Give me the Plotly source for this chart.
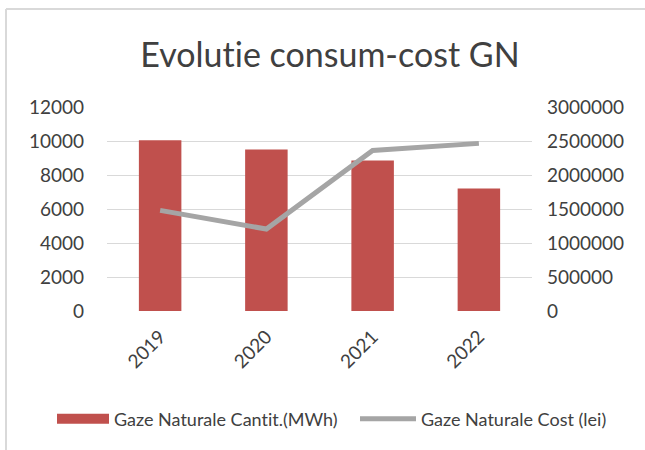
import plotly.graph_objects as go

years = ["2019", "2020", "2021", "2022"]
cantitate_mwh = [10050, 9500, 8850, 7200]
cost_lei = [1480000, 1205000, 2360000, 2465000]
left_ticks = [0, 2000, 4000, 6000, 8000, 10000, 12000]
right_ticks = [0, 500000, 1000000, 1500000, 2000000, 2500000, 3000000]

FONT = "Lato"
TXT = "#404040"
RED = "#C0504D"
GREY = "#A5A5A5"

W, H = 645, 450
L, R, T, B = 107, 113, 107, 139
PW, PH = W - L - R, H - T - B

fig = go.Figure()
fig.add_trace(go.Bar(
    x=years, y=cantitate_mwh, name="Gaze Naturale Cantit.(MWh)",
    marker=dict(color=RED, line=dict(width=0)), width=0.4, yaxis="y",
    showlegend=False))
# legend swatch for the bars (wide rectangle as in the reference)
fig.add_trace(go.Scatter(
    x=[None], y=[None], name="Gaze Naturale Cantit.(MWh)", mode="lines",
    line=dict(color=RED, width=12), yaxis="y", legend="legend"))
fig.add_trace(go.Scatter(
    x=years, y=cost_lei, name="Gaze Naturale Cost (lei)", mode="lines",
    line=dict(color=GREY, width=5), yaxis="y2", legend="legend2"))

leg_common = dict(orientation="h", xref="container", yref="container",
                  xanchor="left", yanchor="middle", y=1 - 419 / H,
                  font=dict(size=18, color=TXT), bgcolor="rgba(0,0,0,0)")

fig.update_layout(
    width=W, height=H,
    margin=dict(l=L, r=R, t=T, b=B, autoexpand=False),
    paper_bgcolor="white", plot_bgcolor="white",
    font=dict(family=FONT, color=TXT, size=19),
    title=dict(text="Evolutie consum-cost GN", x=330 / W, xanchor="center",
               xref="container", yref="container",
               y=1 - 55 / H, yanchor="middle",
               font=dict(family=FONT, size=34, color=TXT)),
    showlegend=True,
    legend=dict(leg_common, x=52 / W, itemwidth=52),
    legend2=dict(leg_common, x=355 / W, itemwidth=56),
    xaxis=dict(type="category", tickangle=-45, showgrid=False, showline=False,
               ticks="", tickfont=dict(size=19, color=TXT), automargin=False,
               ticklabelstandoff=10),
    yaxis=dict(range=[0, 12000], tickvals=left_ticks, tickformat="d", showgrid=True,
               gridcolor="#D9D9D9", gridwidth=1, zeroline=False, showline=False,
               ticks="", tickfont=dict(size=19, color=TXT), ticklabelstandoff=22,
               automargin=False),
    yaxis2=dict(range=[0, 3000000], tickvals=right_ticks, overlaying="y", side="right",
                showgrid=False, zeroline=False, showline=False, ticks="",
                tickformat="d", tickfont=dict(size=19, color=TXT), ticklabelstandoff=14,
                automargin=False),
    shapes=[
        dict(type="line", xref="paper", yref="paper",
             x0=(6 - L) / PW, x1=(W + 5 - L) / PW,
             y0=1 + (T - 9) / PH, y1=1 + (T - 9) / PH,
             line=dict(color="#D9D9D9", width=2)),
        dict(type="line", xref="paper", yref="paper",
             x0=(6 - L) / PW, x1=(6 - L) / PW,
             y0=1 + (T - 9) / PH, y1=-(B + 5) / PH,
             line=dict(color="#D9D9D9", width=2)),
    ],
)

post = (
    "document.body.style.margin='0';"
    "var st=document.createElement('style');"
    "st.textContent='svg text{font-variant-ligatures:none;font-feature-settings:\"liga\" 0;}';"
    "document.head.appendChild(st);"
)
fig.write_html("out.html", config={"displayModeBar": False}, post_script=post)
